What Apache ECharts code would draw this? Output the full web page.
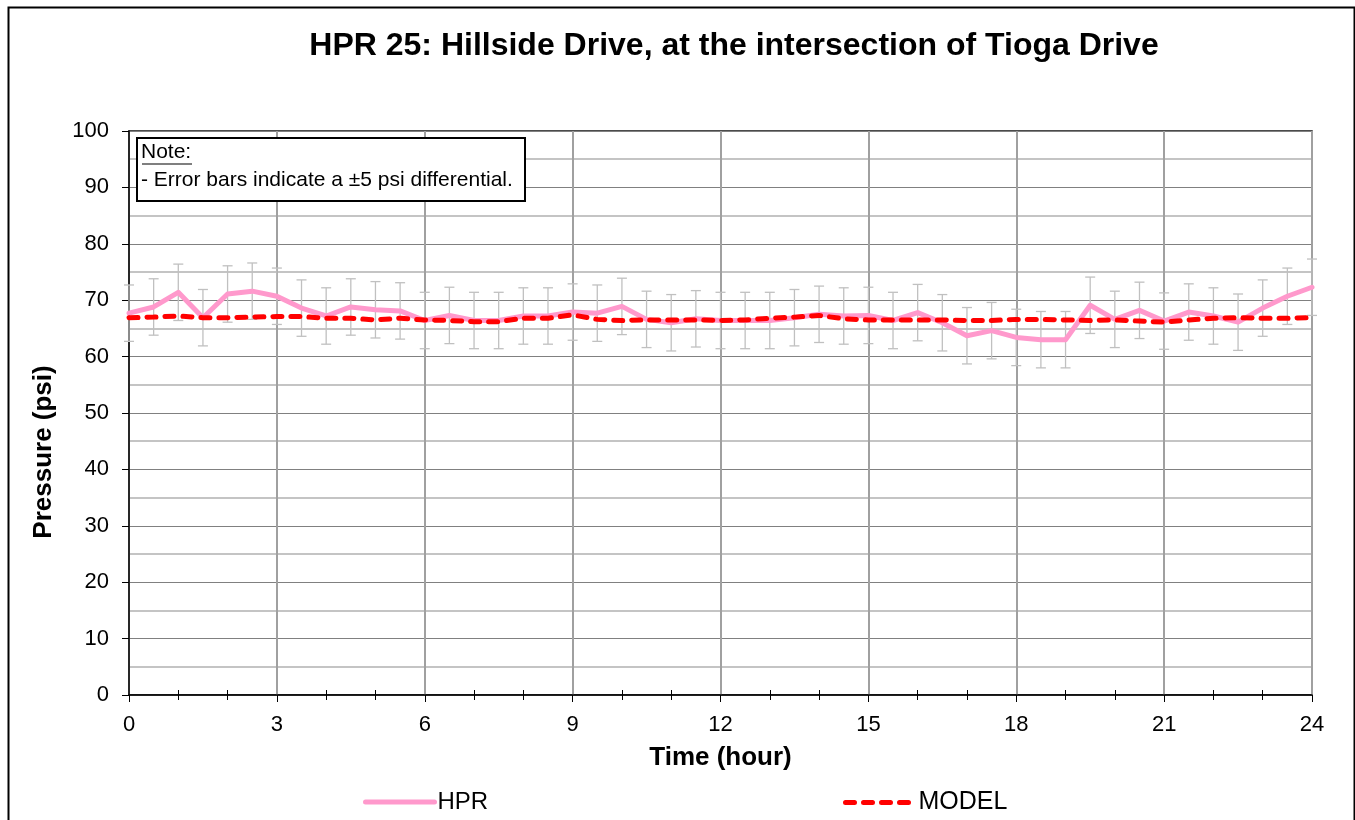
<!DOCTYPE html>
<html>
<head>
<meta charset="utf-8">
<script src="https://cdn.jsdelivr.net/npm/echarts@6/dist/echarts.min.js"></script>
<style>
html,body{margin:0;padding:0;background:#fff;}
#chart{width:1355px;height:820px;}
</style>
</head>
<body>
<div id="chart"></div>
<script>
// ---- data ----
const titleText = 'HPR 25: Hillside Drive, at the intersection of Tioga Drive';
const hours = [0,0.5,1,1.5,2,2.5,3,3.5,4,4.5,5,5.5,6,6.5,7,7.5,8,8.5,9,9.5,10,10.5,11,11.5,12,12.5,13,13.5,14,14.5,15,15.5,16,16.5,17,17.5,18,18.5,19,19.5,20,20.5,21,21.5,22,22.5,23,23.5,24];
const hpr = [67.7,68.8,71.4,66.9,71.1,71.6,70.7,68.6,67.2,68.8,68.3,68.1,66.4,67.3,66.4,66.4,67.2,67.2,67.9,67.7,68.9,66.6,66.0,66.7,66.4,66.4,66.4,66.9,67.5,67.2,67.3,66.4,67.8,66.0,63.7,64.6,63.4,63.0,63.0,69.1,66.6,68.2,66.3,67.9,67.2,66.1,68.6,70.7,72.3];
const model = [66.9,67.0,67.2,66.9,66.9,67.0,67.1,67.1,66.8,66.8,66.5,66.8,66.5,66.4,66.2,66.2,66.8,66.8,67.4,66.6,66.4,66.5,66.5,66.5,66.4,66.5,66.8,67.0,67.3,66.7,66.5,66.5,66.5,66.5,66.4,66.4,66.6,66.6,66.5,66.4,66.5,66.3,66.1,66.5,66.8,66.9,66.8,66.8,66.9];
const errorHalf = 5;
const noteLines = ['Note:', '- Error bars indicate a \u00b15 psi differential.'];

const hprData = hours.map((h,i)=>[h,hpr[i]]);
const modelData = hours.map((h,i)=>[h,model[i]]);
const errData = hours.map((h,i)=>[h,hpr[i]-errorHalf,hpr[i]+errorHalf]);

const FONT = 'Liberation Sans, Arial, sans-serif';
const chart = echarts.init(document.getElementById('chart'), null, {renderer:'canvas'});

chart.setOption({
  animation:false,
  backgroundColor:'#fff',
  textStyle:{fontFamily:FONT},
  title:{
    text:titleText, left:729, top:25, textAlign:'center',
    textStyle:{fontFamily:FONT, fontSize:32, fontWeight:'bold', color:'#000'}
  },
  grid:{left:129, right:43, top:131, bottom:125, show:true, borderColor:'#111', borderWidth:1.5, backgroundColor:'transparent'},
  legend:[
    {data:[{name:'HPR', icon:'inherit'}], left:363, top:790, padding:0, itemWidth:69, itemHeight:10, itemGap:0,
     lineStyle:{width:5}, itemStyle:{opacity:0, borderWidth:0},
     textStyle:{fontFamily:FONT, fontSize:24, color:'#000', padding:[0,0,0,-2]}},
    {data:[{name:'MODEL', icon:'inherit'}], left:843, top:790, padding:0, itemWidth:72, itemHeight:10, itemGap:0,
     lineStyle:{width:5}, itemStyle:{opacity:0, borderWidth:0},
     textStyle:{fontFamily:FONT, fontSize:25, color:'#000', padding:[0,0,0,-4]}}
  ],
  xAxis:[
    {type:'value', min:0, max:24, interval:3, position:'bottom',
     name:'Time (hour)', nameLocation:'middle', nameGap:50,
     nameTextStyle:{fontFamily:FONT, fontSize:26, fontWeight:'bold', color:'#000'},
     axisLine:{show:true, onZero:false, lineStyle:{color:'#000', width:1.5}},
     axisTick:{show:true, length:7, lineStyle:{color:'#000', width:1}},
     minorTick:{show:true, splitNumber:3, length:5, lineStyle:{color:'#000', width:1}},
     axisLabel:{fontFamily:FONT, fontSize:22, color:'#000', margin:19},
     splitLine:{show:true, lineStyle:{color:'#a0a0a0', width:2}}
    },
    {type:'value', min:0, max:24, interval:3, position:'bottom',
     axisLine:{show:false}, axisLabel:{show:false},
     axisTick:{show:false, inside:true},
     minorTick:{show:true, splitNumber:3, length:5, lineStyle:{color:'#000', width:1}},
     splitLine:{show:false}
    }
  ],
  yAxis:{type:'value', min:0, max:100, interval:10,
    name:'Pressure (psi)', nameLocation:'middle', nameGap:72, nameRotate:90,
    nameTextStyle:{fontFamily:FONT, fontSize:26, fontWeight:'bold', color:'#000', padding:[0,78,0,0]},
    axisLine:{show:true, onZero:false, lineStyle:{color:'#000', width:1.5}},
    axisTick:{show:true, length:7, lineStyle:{color:'#000', width:1}},
    axisLabel:{fontFamily:FONT, fontSize:22, color:'#000', margin:20},
    splitLine:{show:true, lineStyle:{color:'#808080', width:1.2}},
    minorTick:{show:false, splitNumber:2},
    minorSplitLine:{show:true, lineStyle:{color:'#c4c4c4', width:2}}
  },
  series:[
    {type:'custom', name:'err', xAxisIndex:0, yAxisIndex:0, z:2, silent:true,
     data:errData,
     encode:{x:0, y:[1,2]},
     renderItem:function(params, api){
       const x = api.value(0);
       const lo = api.coord([x, api.value(1)]);
       const hi = api.coord([x, api.value(2)]);
       const cap = 5;
       const st = {stroke:'#c0c0c0', lineWidth:1.3};
       return {type:'group', children:[
         {type:'line', shape:{x1:lo[0], y1:lo[1], x2:hi[0], y2:hi[1]}, style:st},
         {type:'line', shape:{x1:lo[0]-cap, y1:lo[1], x2:lo[0]+cap, y2:lo[1]}, style:st},
         {type:'line', shape:{x1:hi[0]-cap, y1:hi[1], x2:hi[0]+cap, y2:hi[1]}, style:st}
       ]};
     }
    },
    {type:'line', name:'HPR', data:hprData, showSymbol:false, symbol:'none', z:3,
     lineStyle:{color:'#ff99cc', width:5, join:'round', cap:'round'}, itemStyle:{color:'#ff99cc'}},
    {type:'line', name:'MODEL', data:modelData, showSymbol:false, symbol:'none', z:4,
     lineStyle:{color:'#ff0000', width:5, type:[9,9], cap:'round', join:'round'}, itemStyle:{color:'#ff0000'}}
  ],
  graphic:[
    {type:'rect', left:6, top:5, shape:{x:0, y:0, width:1346, height:830}, z:0, silent:true,
     style:{fill:'none', stroke:'#000', lineWidth:2}},
    {type:'rect', x:137, y:138, z:100, zlevel:1, shape:{x:0, y:0, width:388, height:63}, style:{fill:'#fff', stroke:'#000', lineWidth:2}},
    {type:'text', x:141, y:142, z:101, zlevel:1, style:{text:noteLines[0], font:'21px ' + FONT, fill:'#000'}},
    {type:'line', x:0, y:0, z:101, zlevel:1, shape:{x1:142, y1:164, x2:192, y2:164}, style:{stroke:'#000', lineWidth:1.2}},
    {type:'text', x:141, y:170, z:101, zlevel:1, style:{text:noteLines[1], font:'21px ' + FONT, fill:'#000'}}
  ]
});
</script>
</body>
</html>
